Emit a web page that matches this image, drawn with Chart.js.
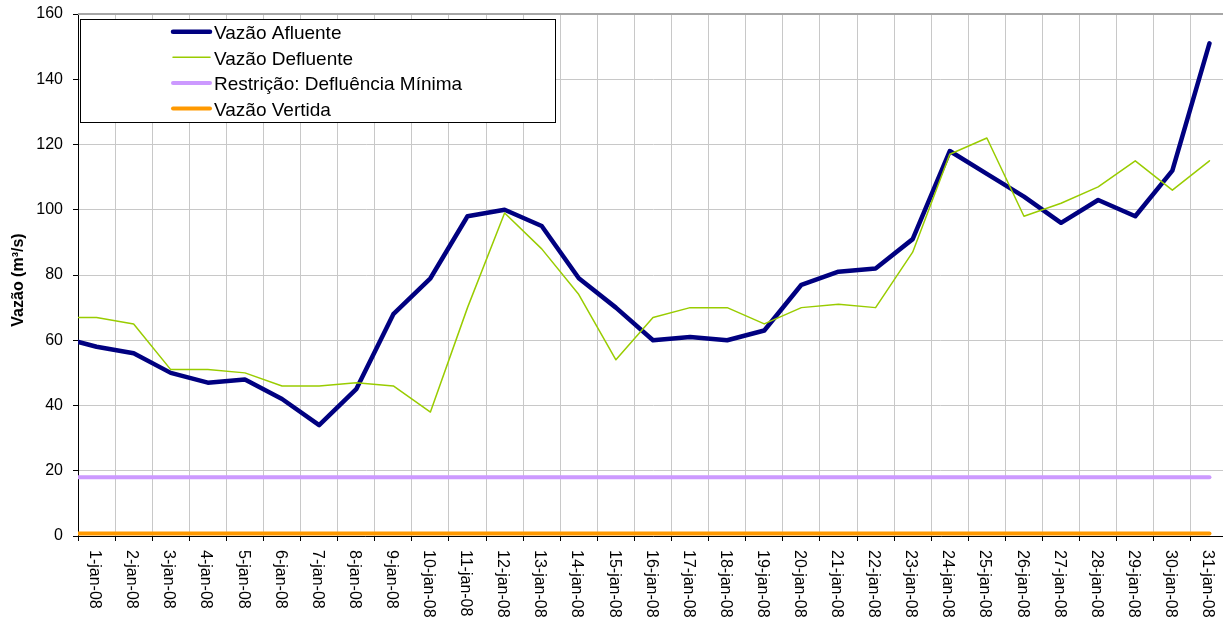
<!DOCTYPE html>
<html><head><meta charset="utf-8">
<script src="https://cdn.jsdelivr.net/npm/chart.js@4.4.1/dist/chart.umd.min.js"></script>
<style>
html,body{margin:0;padding:0;background:#fff;overflow:hidden;width:1223px;height:623px}
#wrap{position:absolute;left:0;top:0;width:1240px;height:623px}
</style></head>
<body><div id="wrap"><canvas id="c" width="1240" height="623"></canvas></div>
<script>
// Category labels (one per day)
const dayLabels = ['1-jan-08','2-jan-08','3-jan-08','4-jan-08','5-jan-08','6-jan-08','7-jan-08','8-jan-08','9-jan-08','10-jan-08',
  '11-jan-08','12-jan-08','13-jan-08','14-jan-08','15-jan-08','16-jan-08','17-jan-08','18-jan-08','19-jan-08','20-jan-08',
  '21-jan-08','22-jan-08','23-jan-08','24-jan-08','25-jan-08','26-jan-08','27-jan-08','28-jan-08','29-jan-08','30-jan-08','31-jan-08'];
// Series values: index 0 is the preceding day (31-dez-07), whose segment enters the clipped plot at the left edge;
// indexes 1..31 are 1-jan-08 .. 31-jan-08
const vazaoAfluente   = [61, 58, 56, 50, 47, 48, 42, 34, 45, 68, 79, 98, 100, 95, 79, 70, 60, 61, 60, 63, 77, 81, 82, 91, 118, 111, 104, 96, 103, 98, 112, 151];
const vazaoDefluente  = [67, 67, 65, 51, 51, 50, 46, 46, 47, 46, 38, 70, 99, 88, 74, 54, 67, 70, 70, 65, 70, 71, 70, 87, 117, 122, 98, 102, 107, 115, 106, 115];
const defluenciaMinima = [18, 18, 18, 18, 18, 18, 18, 18, 18, 18, 18, 18, 18, 18, 18, 18, 18, 18, 18, 18, 18, 18, 18, 18, 18, 18, 18, 18, 18, 18, 18, 18];
const vazaoVertida    = [0.8, 0.8, 0.8, 0.8, 0.8, 0.8, 0.8, 0.8, 0.8, 0.8, 0.8, 0.8, 0.8, 0.8, 0.8, 0.8, 0.8, 0.8, 0.8, 0.8, 0.8, 0.8, 0.8, 0.8, 0.8, 0.8, 0.8, 0.8, 0.8, 0.8, 0.8, 0.8];
const seriesNames = ['Vazão Afluente', 'Vazão Defluente', 'Restrição: Defluência Mínima', 'Vazão Vertida'];
const yTickValues = [0, 20, 40, 60, 80, 100, 120, 140, 160];
const yAxisTitle = 'Vazão (m³/s)';

const FONT = '"Liberation Sans", Arial, Helvetica, sans-serif';
const toPts = arr => arr.map((v, i) => ({x: i, y: v}));

function mk(label, data, color, width, order) {
  return {label, data: toPts(data), borderColor: color, backgroundColor: color, borderWidth: width,
    pointRadius: 0, pointHoverRadius: 0, tension: 0, fill: false, order,
    borderCapStyle: 'round', borderJoinStyle: 'round',
    clip: {left: 0, top: 6, right: 6, bottom: 6}};
}

const decor = {
  id: 'decor',
  afterDraw(chart) {
    const ctx = chart.ctx, xs = chart.scales.x, ca = chart.chartArea;
    ctx.save();
    // top border of plot area
    ctx.strokeStyle = '#a6a6a6'; ctx.lineWidth = 2;
    ctx.beginPath(); ctx.moveTo(ca.left, ca.top); ctx.lineTo(ca.right, ca.top); ctx.stroke();
    // x labels, rotated clockwise
    ctx.fillStyle = '#000';
    ctx.font = '16px ' + FONT;
    ctx.textAlign = 'left'; ctx.textBaseline = 'alphabetic';
    dayLabels.forEach((lab, i) => {
      const x = xs.getPixelForValue(i + 1);
      ctx.save();
      ctx.translate(x, ca.bottom + 14);
      ctx.rotate(Math.PI / 2);
      ctx.fillText(lab, 0, 6.4);
      ctx.restore();
    });
    // y axis title
    ctx.save();
    ctx.font = 'bold 16px ' + FONT;
    ctx.textAlign = 'center'; ctx.textBaseline = 'middle';
    ctx.translate(18.5, 280);
    ctx.rotate(-Math.PI / 2);
    ctx.fillText(yAxisTitle, 0, 0);
    ctx.restore();
    // legend
    ctx.fillStyle = '#fff';
    ctx.fillRect(80.5, 19.5, 475, 103);
    ctx.strokeStyle = '#000'; ctx.lineWidth = 1;
    ctx.strokeRect(80.5, 19.5, 475, 103);
    ctx.font = '19px ' + FONT;
    ctx.textAlign = 'left'; ctx.textBaseline = 'alphabetic';
    chart.data.datasets.forEach((ds, i) => {
      const y = 31.7 + 25.6 * i;
      ctx.strokeStyle = ds.borderColor; ctx.lineWidth = ds.borderWidth;
      ctx.lineCap = 'round';
      ctx.beginPath(); ctx.moveTo(173, y); ctx.lineTo(210, y); ctx.stroke();
      ctx.fillStyle = '#000';
      ctx.fillText(ds.label, 214, y + 7.2);
    });
    ctx.restore();
  }
};

new Chart(document.getElementById('c'), {
  type: 'line',
  data: {
    datasets: [
      mk(seriesNames[0], vazaoAfluente, '#000080', 4.5, 2),
      mk(seriesNames[1], vazaoDefluente, '#99cc00', 1.5, 1),
      mk(seriesNames[2], defluenciaMinima, '#cc99ff', 4, 3),
      mk(seriesNames[3], vazaoVertida, '#ff9900', 4, 4)
    ]
  },
  options: {
    responsive: false,
    animation: false,
    events: [],
    layout: {padding: {top: 14, right: 12, left: 0, bottom: 0}},
    plugins: {legend: {display: false}, tooltip: {enabled: false}, title: {display: false}},
    scales: {
      x: {
        type: 'linear', min: 0.5, max: dayLabels.length + 0.5,
        afterBuildTicks(scale) {
          const t = [];
          for (let i = 0; i <= dayLabels.length; i++) t.push({value: i + 0.5});
          scale.ticks = t;
        },
        afterFit(scale) { scale.height = 87; scale.paddingLeft = 0; scale.paddingRight = 0; },
        ticks: {display: false},
        grid: {color: '#c8c8c8', lineWidth: 1, tickColor: '#000', tickLength: 5, drawTicks: true},
        border: {color: '#000', width: 1}
      },
      y: {
        min: 0, max: 160,
        afterBuildTicks(scale) { scale.ticks = yTickValues.map(v => ({value: v})); },
        afterFit(scale) { scale.width = 78; scale.paddingTop = 0; scale.paddingBottom = 0; },
        ticks: {font: {family: FONT, size: 16}, color: '#000', padding: 10},
        grid: {color: '#c8c8c8', lineWidth: 1, tickColor: '#000', tickLength: 5},
        border: {color: '#000', width: 1}
      }
    }
  },
  plugins: [decor]
});
</script>
</body></html>
